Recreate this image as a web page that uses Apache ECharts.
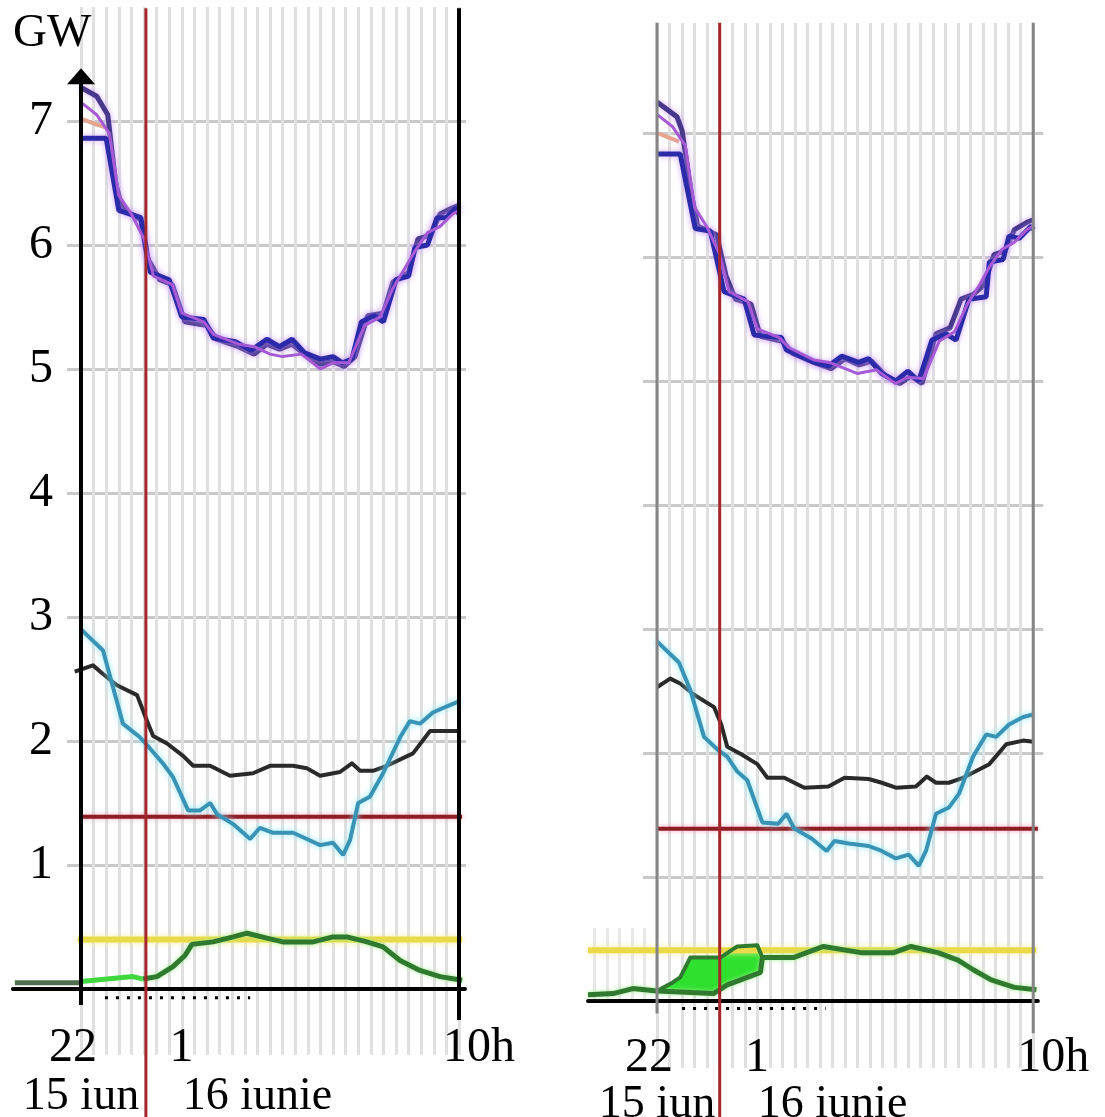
<!DOCTYPE html>
<html>
<head>
<meta charset="utf-8">
<title>GW</title>
<script src="https://cdn.jsdelivr.net/npm/echarts@6/dist/echarts.min.js"></script>
<style>
  html, body { margin: 0; padding: 0; background: #fff; }
  #chart { width: 1105px; height: 1117px; }
</style>
</head>
<body>
<div id="chart"></div>
<script>
// Consum / productie, 15-16 iunie, doua momente (stanga / dreapta)
// x = ore de la 22:00 (0 = 22h, 3 = 1h, 12 = 10h), y = GW

const hourTicks = [0, 3, 12];
const hourLabels = ['22', '1', '10h'];
const dayTicks = [0, 5.6];
const dayLabels = ['15 iun', '16 iunie'];
const gwTicks = [1, 2, 3, 4, 5, 6, 7];

// --- panou stanga ---
const navyLeft = [[0, 7.27], [0.5, 7.2], [0.85, 7.05], [1.1, 6.5], [1.3, 6.3], [1.9, 6.2], [2.1, 5.9], [2.5, 5.72], [2.9, 5.68], [3.3, 5.38], [4.0, 5.35], [4.3, 5.24], [5.0, 5.18], [5.5, 5.12], [5.9, 5.2], [6.3, 5.16], [6.7, 5.2], [7.2, 5.1], [7.6, 5.04], [8.0, 5.06], [8.35, 5.02], [8.7, 5.1], [9.1, 5.43], [9.6, 5.45], [9.9, 5.7], [10.4, 5.78], [10.7, 6.05], [11.1, 6.08], [11.4, 6.25], [11.8, 6.3], [12.0, 6.32]];
const blueLeft = [[0, 6.86], [0.8, 6.86], [1.2, 6.28], [1.9, 6.22], [2.2, 5.78], [2.8, 5.72], [3.2, 5.42], [3.9, 5.4], [4.2, 5.25], [4.9, 5.22], [5.4, 5.15], [5.9, 5.24], [6.3, 5.18], [6.7, 5.24], [7.1, 5.13], [7.6, 5.08], [8.0, 5.1], [8.3, 5.05], [8.6, 5.08], [8.9, 5.38], [9.3, 5.43], [9.6, 5.38], [10.0, 5.72], [10.4, 5.75], [10.6, 5.98], [11.0, 6.0], [11.3, 6.22], [11.6, 6.22], [11.9, 6.3], [12.0, 6.25]];
const violetLeft = [[0, 7.15], [0.5, 7.05], [0.9, 6.9], [1.2, 6.4], [1.6, 6.25], [2.0, 6.05], [2.3, 5.75], [2.9, 5.68], [3.2, 5.45], [3.9, 5.38], [4.2, 5.28], [5.0, 5.2], [5.5, 5.18], [6.0, 5.12], [6.4, 5.1], [7.0, 5.12], [7.6, 5.0], [8.0, 5.05], [8.5, 5.05], [9.0, 5.35], [9.5, 5.42], [9.9, 5.65], [10.3, 5.82], [10.6, 5.95], [11.0, 6.1], [11.4, 6.15], [11.8, 6.25], [12.0, 6.28]];
const pinkLeft = [[0, 7.02], [0.4, 6.98], [0.75, 6.95]];
const cyanLeft = [[0, 2.9], [0.7, 2.73], [1.33, 2.14], [1.87, 2.03], [2.19, 1.94], [2.6, 1.82], [2.92, 1.71], [3.4, 1.44], [3.78, 1.44], [4.1, 1.5], [4.32, 1.41], [4.83, 1.33], [5.37, 1.21], [5.68, 1.3], [6.1, 1.26], [6.73, 1.26], [7.17, 1.21], [7.59, 1.16], [8.0, 1.18], [8.32, 1.08], [8.54, 1.2], [8.8, 1.5], [9.17, 1.55], [9.59, 1.74], [10.13, 2.03], [10.44, 2.16], [10.76, 2.14], [11.17, 2.23], [11.62, 2.28], [12.0, 2.32]];
const blackLeft = [[-0.2, 2.56], [0.38, 2.61], [0.7, 2.54], [1.14, 2.45], [1.78, 2.37], [2.1, 2.16], [2.29, 2.04], [2.73, 1.98], [3.24, 1.88], [3.56, 1.8], [4.1, 1.8], [4.73, 1.72], [5.46, 1.74], [6.0, 1.8], [6.73, 1.8], [7.17, 1.78], [7.59, 1.72], [8.22, 1.75], [8.6, 1.82], [8.86, 1.76], [9.27, 1.76], [9.71, 1.8], [10.54, 1.9], [11.08, 2.08], [11.62, 2.08], [12.0, 2.08]];
const greenLeftPast = [[-2.1, 0.05], [0, 0.05]];
const greenLeftNow = [[0, 0.06], [1.65, 0.1], [1.97, 0.08]];
const greenLeft = [[1.97, 0.08], [2.41, 0.1], [2.92, 0.18], [3.3, 0.27], [3.52, 0.36], [4.19, 0.38], [4.83, 0.42], [5.27, 0.45], [5.9, 0.41], [6.41, 0.38], [7.37, 0.38], [8.0, 0.42], [8.44, 0.42], [9.08, 0.38], [9.59, 0.34], [10.13, 0.23], [10.76, 0.15], [11.4, 0.1], [12.1, 0.07]];
const redLevelLeft = [[0, 1.39], [12.1, 1.39]];
const yellowLevelLeft = [[-0.1, 0.4], [12.1, 0.4]];
const nowLeft = [[2.06, -1.2], [2.06, 7.91]];
const dotsLeft = [[0.76, -0.07], [5.37, -0.07]];
const yAxisLeft = [[0, -0.13], [0, 7.36]];
const borderEndLeft = [[12, -0.25], [12, 7.91]];

// --- panou dreapta ---
const navyRight = [[0, 7.25], [0.64, 7.13], [0.8, 7.02], [1.1, 6.5], [1.3, 6.25], [1.9, 6.18], [2.2, 5.85], [2.5, 5.66], [3.0, 5.62], [3.3, 5.36], [4.0, 5.32], [4.35, 5.22], [5.1, 5.14], [5.55, 5.1], [6.0, 5.18], [6.45, 5.13], [6.85, 5.16], [7.3, 5.04], [7.75, 4.98], [8.1, 5.04], [8.45, 4.98], [8.9, 5.38], [9.35, 5.43], [9.7, 5.66], [10.1, 5.7], [10.45, 5.78], [10.75, 6.02], [11.1, 6.05], [11.4, 6.22], [11.8, 6.28], [12.0, 6.3]];
const blueRight = [[0, 6.83], [0.74, 6.83], [1.22, 6.23], [1.7, 6.21], [2.14, 5.72], [2.78, 5.66], [3.1, 5.37], [3.97, 5.35], [4.13, 5.25], [5.02, 5.15], [5.47, 5.12], [5.89, 5.2], [6.43, 5.15], [6.75, 5.18], [7.17, 5.06], [7.62, 5.0], [8.0, 5.08], [8.35, 5.0], [8.77, 5.33], [9.22, 5.38], [9.54, 5.33], [9.95, 5.66], [10.5, 5.68], [10.6, 5.96], [11.04, 5.98], [11.23, 6.17], [11.55, 6.15], [11.94, 6.25], [12.0, 6.22]];
const violetRight = [[0, 7.15], [0.5, 7.05], [0.9, 6.9], [1.2, 6.4], [1.6, 6.24], [2.0, 6.02], [2.3, 5.72], [2.9, 5.64], [3.2, 5.42], [3.9, 5.35], [4.2, 5.27], [5.0, 5.17], [5.5, 5.15], [6.0, 5.1], [6.4, 5.06], [7.0, 5.09], [7.6, 4.98], [8.0, 5.03], [8.5, 5.02], [9.0, 5.32], [9.5, 5.4], [9.9, 5.62], [10.3, 5.78], [10.6, 5.92], [11.0, 6.06], [11.4, 6.12], [11.8, 6.22], [12.0, 6.25]];
const pinkRight = [[0, 7.0], [0.4, 6.96], [0.7, 6.93]];
const cyanRight = [[0, 2.9], [0.7, 2.73], [1.06, 2.51], [1.5, 2.13], [1.92, 2.03], [2.24, 1.97], [2.56, 1.85], [2.88, 1.78], [3.36, 1.44], [3.87, 1.43], [4.13, 1.51], [4.38, 1.39], [4.93, 1.31], [5.41, 1.21], [5.66, 1.29], [6.11, 1.27], [6.75, 1.25], [7.17, 1.21], [7.62, 1.15], [8.03, 1.18], [8.35, 1.09], [8.58, 1.21], [8.9, 1.51], [9.31, 1.56], [9.63, 1.67], [10.08, 1.97], [10.5, 2.15], [10.82, 2.13], [11.23, 2.23], [11.68, 2.29], [12.0, 2.31]];
const blackRight = [[0, 2.53], [0.42, 2.6], [0.74, 2.56], [1.18, 2.47], [1.82, 2.37], [2.05, 2.23], [2.24, 2.05], [2.69, 1.99], [3.2, 1.91], [3.52, 1.8], [4.06, 1.8], [4.7, 1.72], [5.47, 1.73], [5.98, 1.8], [6.75, 1.79], [7.17, 1.76], [7.62, 1.72], [8.26, 1.73], [8.61, 1.81], [8.9, 1.76], [9.31, 1.76], [9.76, 1.8], [10.6, 1.91], [11.14, 2.07], [11.68, 2.1], [12.0, 2.09]];
const greenRight = [[-2.2, 0.05], [-1.4, 0.06], [-0.77, 0.1], [0, 0.08], [1.8, 0.06], [2.24, 0.13], [2.88, 0.19], [3.3, 0.23], [3.36, 0.35], [4.35, 0.35], [5.31, 0.44], [6.5, 0.39], [7.55, 0.39], [8.1, 0.44], [8.96, 0.39], [9.6, 0.33], [10.1, 0.25], [10.66, 0.17], [11.4, 0.11], [12.1, 0.09]];
const greenRightBand = [[0, 0.08], [0.5, 0.15], [0.74, 0.19], [1.06, 0.35], [2.02, 0.35], [2.56, 0.44], [3.2, 0.45], [3.36, 0.35]];
const redLevelRight = [[0, 1.39], [12.15, 1.39]];
const yellowLevelRight = [[-2.2, 0.41], [12.1, 0.41]];
const nowRight = [[2.0, -1.2], [2.0, 7.89]];
const dotsRight = [[0.8, -0.06], [5.38, -0.06]];
const borderStartRight = [[0, -0.1], [0, 7.89]];
const borderEndRight = [[12, -0.26], [12, 7.89]];

// geometry of the two panels (pixels)
const PANELS = [
  { x0: 81, pxh: 31.5, zero: 989, unit: 124, top: 7, vBottom: 1055, xMin: -2.16, xMax: 12.19, hL: 14, hR: 7, labelMargin: 35, dayMargin: 85, yLabels: true, leftStripes: false },
  { x0: 657, pxh: 31.35, zero: 1001, unit: 124, top: 23, vBottom: 1068, xMin: -2.2, xMax: 12.15, hL: 14, hR: 10, labelMargin: 33, dayMargin: 81, yLabels: false, leftStripes: true }
];

const SERIF = "'Liberation Serif', 'DejaVu Serif', serif";
const grids = [], xAxes = [], yAxes = [], series = [];

function hidden(extra) {
  return Object.assign({ type: 'value', show: false, min: 0, max: 1 }, extra);
}

function addGrid(left, top, width, height) {
  grids.push({ left, top, width, height, outerBoundsMode: 'none', containLabel: false });
  return grids.length - 1;
}

function stripesGrid(left, width, top, height, min, max, color) {
  const gi = addGrid(left, top, width, height);
  xAxes.push({
    type: 'value', gridIndex: gi, min, max, interval: 0.4,
    axisLine: { show: false }, axisTick: { show: false }, axisLabel: { show: false },
    splitLine: { show: true, lineStyle: { color, width: 3 } }
  });
  yAxes.push(hidden({ gridIndex: gi }));
}

function line(ax, data, color, width, extra) {
  series.push(Object.assign({
    type: 'line', xAxisIndex: ax.x, yAxisIndex: ax.y, data,
    symbol: 'none', showSymbol: false, clip: false, silent: true, animation: false,
    lineStyle: { color, width, cap: 'butt', join: 'round' }
  }, extra || {}));
}

function buildPanel(p, d) {
  const g = PANELS[p];
  const width12 = 12 * g.pxh;
  const topD = g.zero - 8 * g.unit;

  // vertical stripes
  stripesGrid(g.x0, width12, g.top, g.vBottom - g.top, 0, 12, '#e0e0e0');
  if (g.leftStripes) {
    stripesGrid(g.x0 - 2 * g.pxh, 2 * g.pxh, 928, g.zero - 928, -2, 0, '#e8e8e8');
  }

  // horizontal grid lines + GW labels
  let gi = addGrid(g.x0 - g.hL, topD, width12 + g.hL + g.hR, 8 * g.unit);
  xAxes.push(hidden({ gridIndex: gi }));
  const hColors = gwTicks.map(() => '#c9c9c9');
  yAxes.push({
    type: 'value', gridIndex: gi, min: 0, max: 8, interval: 1, position: 'left',
    axisLine: { show: false }, axisTick: { show: false },
    axisLabel: {
      show: g.yLabels, margin: 14, fontFamily: SERIF, fontSize: 48, color: '#000',
      formatter: v => (gwTicks.indexOf(v) >= 0 ? String(v) : '')
    },
    splitLine: { show: true, lineStyle: { color: ['transparent'].concat(hColors, ['transparent']), width: 3 } }
  });

  // data grid
  gi = addGrid(g.x0 + g.xMin * g.pxh, topD, (g.xMax - g.xMin) * g.pxh, 8 * g.unit);
  const xi = xAxes.length;
  xAxes.push({
    type: 'value', gridIndex: gi, min: g.xMin, max: g.xMax, position: 'bottom',
    axisLine: { show: true, onZero: false, lineStyle: { color: '#000', width: 4 } },
    axisTick: { show: false }, splitLine: { show: false },
    axisLabel: {
      show: true, customValues: hourTicks, margin: g.labelMargin, color: '#000',
      fontFamily: SERIF, fontSize: 48,
      formatter: v => '{t' + hourTicks.indexOf(v) + '|' + hourLabels[hourTicks.indexOf(v)] + '}',
      rich: {
        t0: { fontFamily: SERIF, fontSize: 48, color: '#000', padding: [0, 16, 0, 0] },
        t1: { fontFamily: SERIF, fontSize: 48, color: '#000', padding: [0, 0, 0, 12] },
        t2: { fontFamily: SERIF, fontSize: 48, color: '#000', padding: [0, 0, 0, 40] }
      }
    }
  });
  xAxes.push({
    type: 'value', gridIndex: gi, min: g.xMin, max: g.xMax, position: 'bottom', offset: 0,
    axisLine: { show: false }, axisTick: { show: false }, splitLine: { show: false },
    axisLabel: {
      show: true, customValues: dayTicks, margin: g.dayMargin, color: '#000',
      fontFamily: SERIF, fontSize: 46,
      formatter: v => dayLabels[dayTicks.indexOf(v)]
    }
  });
  const yi = yAxes.length;
  yAxes.push(hidden({ gridIndex: gi, min: 0, max: 8 }));
  const ax = { x: xi, y: yi };

  // green band (right panel)
  if (d.band) {
    const bottom = d.green.filter(q => q[0] >= 0 && q[0] <= d.band[d.band.length - 1][0]);
    series.push({
      type: 'custom', xAxisIndex: xi, yAxisIndex: yi, clip: false, silent: true, animation: false,
      data: [[0, 0]],
      renderItem: (params, api) => ({
        type: 'polygon',
        shape: { points: d.band.map(q => api.coord(q)).concat(bottom.slice().reverse().map(q => api.coord(q))) },
        style: { fill: '#2fe02f' }
      })
    });
  }

  // reference levels
  line(ax, d.yellow, '#e9da4a', 6, { lineStyle: { color: '#e9da4a', width: 6, shadowColor: 'rgba(250,240,150,0.9)', shadowBlur: 6 } });
  line(ax, d.red, '#8f1d24', 4, { lineStyle: { color: '#8f1d24', width: 4, shadowColor: 'rgba(240,150,160,0.8)', shadowBlur: 5 } });

  // green
  if (d.greenPast) line(ax, d.greenPast, '#4f6f4f', 5);
  if (d.greenNow) line(ax, d.greenNow, '#3fd83f', 5);
  line(ax, d.green, '#2f7a2f', 5, { lineStyle: { color: '#2f7a2f', width: 5, shadowColor: 'rgba(160,240,140,0.9)', shadowBlur: 4 } });
  if (d.band) line(ax, d.band, '#2f7a2f', 4);

  // black and cyan
  line(ax, d.black, '#2a2a2a', 4);
  line(ax, d.cyan, '#3a93b4', 4, { lineStyle: { color: '#3a93b4', width: 4, shadowColor: 'rgba(140,235,250,1)', shadowBlur: 6 } });

  // upper group
  const halo = { shadowColor: 'rgba(200,150,255,0.8)', shadowBlur: 6 };
  line(ax, d.pink, '#e6a48e', 4);
  line(ax, d.navy, '#47388c', 5, { lineStyle: Object.assign({ color: '#47388c', width: 5 }, halo) });
  line(ax, d.blue, '#2b2aa8', 5, { lineStyle: Object.assign({ color: '#2b2aa8', width: 5 }, halo) });
  line(ax, d.violet, '#a65ad6', 3);

  // dotted, now-line, borders
  line(ax, d.dots, '#000', 3, { lineStyle: { color: '#000', width: 3, type: [3, 8] } });
  line(ax, d.now, '#a3272b', 3);
  d.borders.forEach(b => line(ax, b.data, b.color, b.width));
  if (d.arrow) {
    line(ax, [{ value: d.arrow[0], symbol: 'none' }, { value: d.arrow[1], symbol: 'triangle', symbolSize: [28, 16] }],
      '#000', 4, { showSymbol: true, itemStyle: { color: '#000' } });
  }
}

buildPanel(0, {
  navy: navyLeft, blue: blueLeft, violet: violetLeft, pink: pinkLeft,
  cyan: cyanLeft, black: blackLeft,
  greenPast: greenLeftPast, greenNow: greenLeftNow, green: greenLeft,
  red: redLevelLeft, yellow: yellowLevelLeft, now: nowLeft, dots: dotsLeft,
  borders: [{ data: borderEndLeft, color: '#000', width: 4 }],
  arrow: yAxisLeft
});
buildPanel(1, {
  navy: navyRight, blue: blueRight, violet: violetRight, pink: pinkRight,
  cyan: cyanRight, black: blackRight,
  green: greenRight, band: greenRightBand,
  red: redLevelRight, yellow: yellowLevelRight, now: nowRight, dots: dotsRight,
  borders: [{ data: borderStartRight, color: '#858585', width: 3 }, { data: borderEndRight, color: '#858585', width: 3 }]
});

const chart = echarts.init(document.getElementById('chart'), null, { renderer: 'canvas' });
chart.setOption({
  animation: false,
  backgroundColor: '#fff',
  title: {
    text: 'GW', left: 13, top: 10, padding: 0,
    textStyle: { fontFamily: SERIF, fontSize: 47, fontWeight: 'normal', color: '#000' }
  },
  grid: grids,
  xAxis: xAxes,
  yAxis: yAxes,
  series
});
</script>
</body>
</html>
